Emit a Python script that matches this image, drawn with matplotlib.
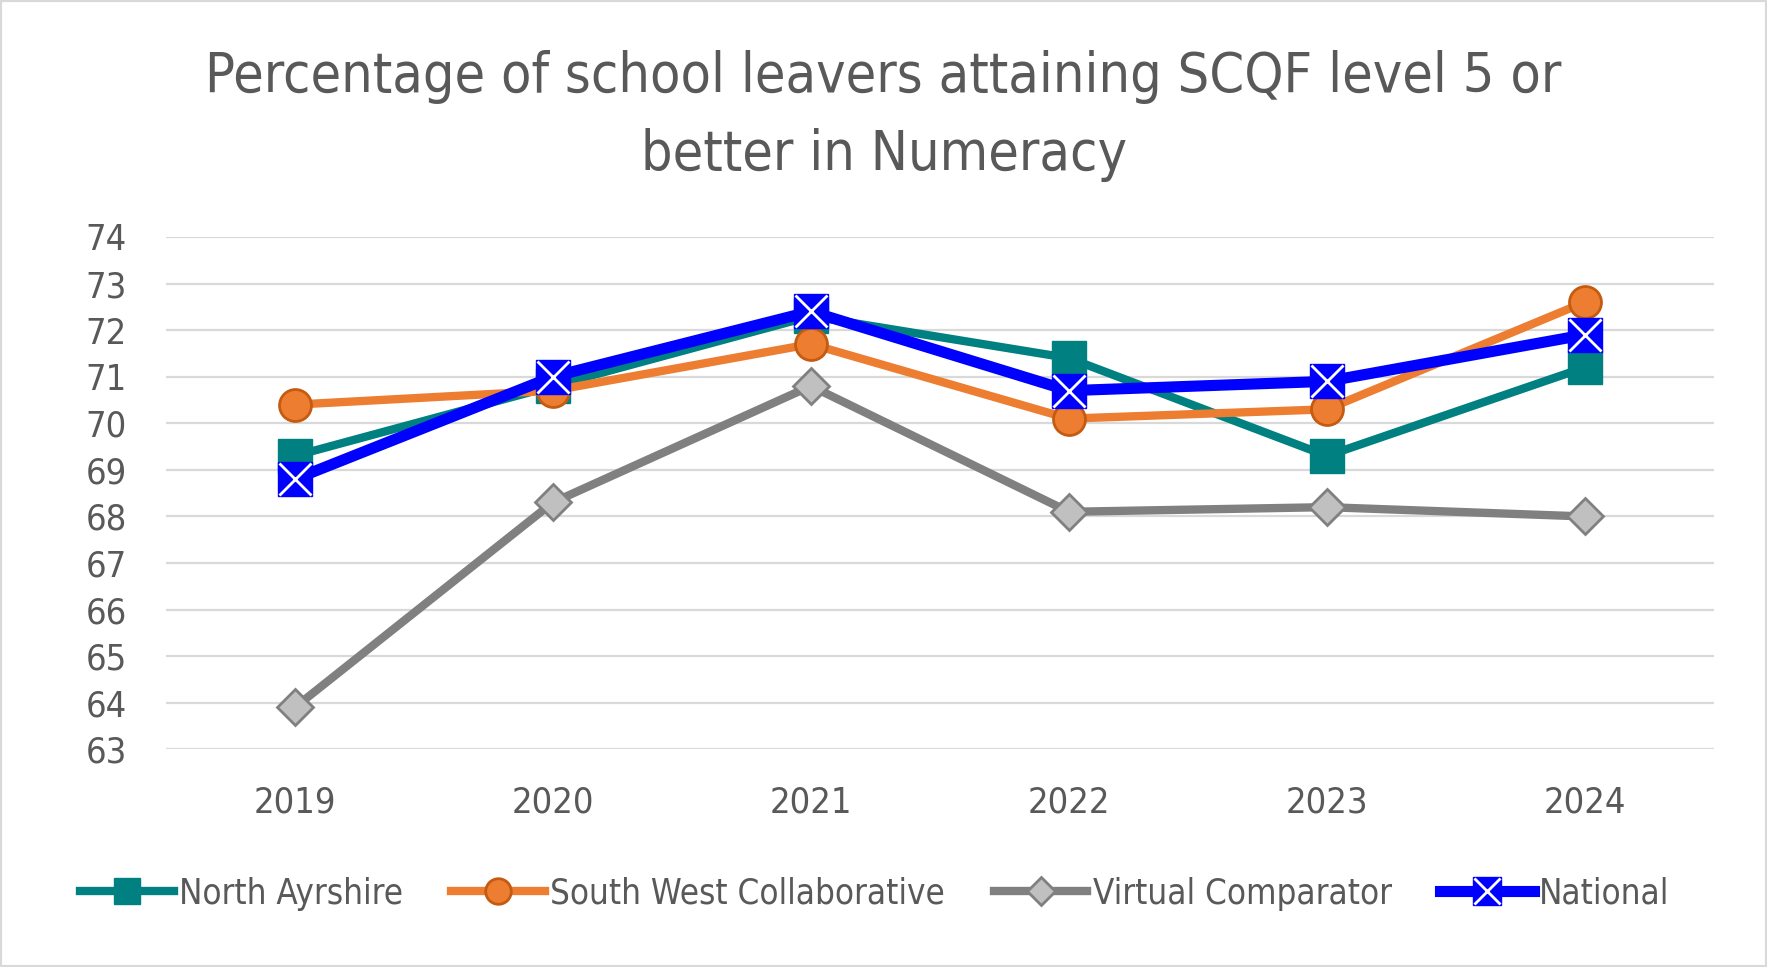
import numpy as np
import matplotlib
matplotlib.use('Agg')
import matplotlib.pyplot as plt
from matplotlib.patches import Rectangle
from matplotlib.legend_handler import HandlerTuple

# chart data
years = ['2019', '2020', '2021', '2022', '2023', '2024']
north_ayrshire = [69.3, 70.8, 72.3, 71.4, 69.3, 71.2]
south_west = [70.4, 70.7, 71.7, 70.1, 70.3, 72.6]
virtual_comp = [63.9, 68.3, 70.8, 68.1, 68.2, 68.0]
national = [68.8, 71.0, 72.4, 70.7, 70.9, 71.9]
y_ticks = [63, 64, 65, 66, 67, 68, 69, 70, 71, 72, 73, 74]

plt.rcParams['font.family'] = ['DejaVu Sans']
plt.rcParams['font.stretch'] = 'condensed'
txt_col = '#595959'

fig = plt.figure(figsize=(17.67, 9.67), dpi=100)
ax = fig.add_axes([0.0938, 0.225, 0.970 - 0.0938, 0.755 - 0.225])
x = np.arange(len(years))

l_na, = ax.plot(x, north_ayrshire, color='#008080', lw=6, marker='s', ms=24,
                mfc='#008080', mec='#008080', zorder=3)
l_sw, = ax.plot(x, south_west, color='#ED7D31', lw=6, marker='o', ms=23,
                mfc='#ED7D31', mec='#C55A11', mew=2, zorder=4)
l_vc, = ax.plot(x, virtual_comp, color='#808080', lw=6, marker='D', ms=18,
                mfc='#C0C0C0', mec='#808080', mew=2, zorder=3)
l_nat, = ax.plot(x, national, color='#0000FF', lw=8, marker='s', ms=25,
                 mfc='#0000FF', mec='#0000FF', zorder=5)
l_x, = ax.plot(x, national, ls='none', marker='x', ms=23, mec='white', mew=2, zorder=6)

ax.set_xlim(-0.5, len(years) - 0.5)
ax.set_ylim(63, 74)
ax.set_yticks(y_ticks)
ax.set_xticks(x)
ax.set_xticklabels(years)
ax.yaxis.grid(True, color='#D9D9D9', lw=1.6)
ax.set_axisbelow(True)
for s in ax.spines.values():
    s.set_visible(False)
ax.tick_params(axis='both', length=0, labelsize=26, colors=txt_col)
ax.tick_params(axis='y', pad=28)
ax.tick_params(axis='x', pad=26)

fig.text(0.5, 0.880, 'Percentage of school leavers attaining SCQF level 5 or\nbetter in Numeracy',
         ha='center', va='center', fontsize=40, color=txt_col, linespacing=1.55)

leg = fig.legend([l_na, l_sw, l_vc, (l_nat, l_x)],
                 ['North Ayrshire', 'South West Collaborative', 'Virtual Comparator', 'National'],
                 handler_map={tuple: HandlerTuple(ndivide=1)},
                 loc='center', bbox_to_anchor=(0.495, 0.076), ncol=4, frameon=False,
                 fontsize=25, labelcolor=txt_col, handlelength=2.7, handletextpad=0.15,
                 columnspacing=1.4, markerscale=0.8)

fig.patches.append(Rectangle((0, 0), 1, 1, transform=fig.transFigure, fill=False,
                             ec='#D9D9D9', lw=3))

fig.savefig('out.png', dpi=100)
